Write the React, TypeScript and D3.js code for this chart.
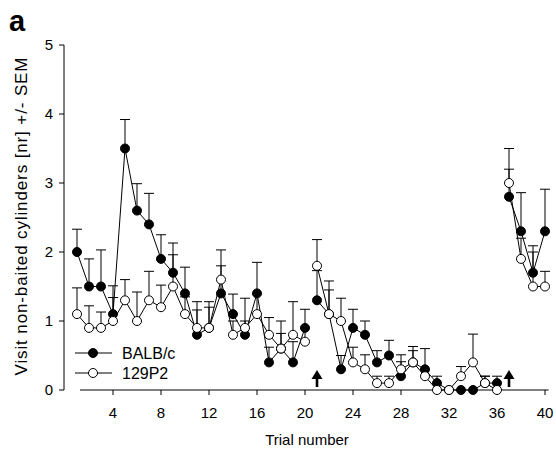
import React from "react";
import * as d3 from "d3";

const trials = d3.range(1, 41);
const balbMean = [2.0,1.5,1.5,1.1,3.5,2.6,2.4,1.9,1.7,1.4,0.8,0.9,1.4,1.1,0.8,1.4,0.4,0.6,0.4,0.9,1.3,1.1,0.3,0.9,0.8,0.4,0.5,0.2,0.4,0.3,0.1,0.0,0.0,0.0,0.1,0.1,2.8,2.3,1.7,2.3];
const balbSem = [0.33,0.4,0.53,0.41,0.42,0.39,0.45,0.35,0.43,0.38,0.36,0.3,0.63,0.29,0.2,0.45,0.22,0.4,0.3,0.27,0.43,0.35,0.2,0.27,0.2,0.17,0.22,0.21,0.23,0.3,0.1,0,0,0,0.1,0.1,0.4,0.56,0.39,0.61];
const p2Mean = [1.1,0.9,0.9,1.0,1.3,1.0,1.3,1.2,1.5,1.1,0.9,0.9,1.6,0.8,0.9,1.1,0.8,0.6,0.8,0.7,1.8,1.1,1.0,0.4,0.3,0.1,0.1,0.3,0.4,0.2,0.0,0.0,0.2,0.4,0.1,0.0,3.0,1.9,1.5,1.5];
const p2Sem = [0.38,0.32,0.23,0.34,0.3,0.42,0.42,0.32,0.46,0.25,0.38,0.38,0.2,0.2,0.43,0.3,0.25,0.22,0.48,0.2,0.38,0.48,0.33,0.22,0.21,0.1,0.1,0.21,0.17,0.1,0,0,0.14,0.41,0.1,0,0.5,0.3,0.5,0.22];
const blocks: [number, number][] = [[1, 20], [21, 36], [37, 40]];
const arrowTrials = [21, 37];
const xTicks = [4, 8, 12, 16, 20, 24, 28, 32, 36, 40];
const yTicks = [0, 1, 2, 3, 4, 5];
const seriesNames = ["BALB/c", "129P2"];

const FONT = "'Liberation Sans', Arial, Helvetica, sans-serif";

export default function App() {
  const x = d3.scaleLinear().domain([1, 40]).range([77, 545]);
  const y = d3.scaleLinear().domain([0, 5]).range([390, 45]);
  const r = 4.5;
  const cap = 5;

  const series = [
    { name: seriesNames[0], mean: balbMean, sem: balbSem, fill: "#000" },
    { name: seriesNames[1], mean: p2Mean, sem: p2Sem, fill: "#fff" },
  ];

  const pathFor = (mean: number[]) =>
    blocks
      .map(([a, b]) =>
        d3
          .line<number>()
          .x((t) => x(t))
          .y((t) => y(mean[t - 1]))(d3.range(a, b + 1))
      )
      .join("");

  return (
    <svg
      width={556}
      height={453}
      style={{ position: "absolute", left: 0, top: 0, background: "#fff" }}
      fontFamily={FONT}
    >
      <rect x={0} y={0} width={556} height={453} fill="#fff" />
      <text x={9} y={31} fontSize={29} fontWeight="bold">a</text>

      {/* y axis */}
      <line x1={64} x2={64} y1={y(5)} y2={y(0)} stroke="#000" strokeWidth={1} />
      {yTicks.map((v) => (
        <g key={v}>
          <line x1={59} x2={64} y1={y(v)} y2={y(v)} stroke="#000" />
          <text x={53} y={y(v) + 5} fontSize={15} textAnchor="end">{v}</text>
        </g>
      ))}
      <text
        transform={`translate(27, ${(57 + 376) / 2}) rotate(-90)`}
        fontSize={17}
        textAnchor="middle"
        textLength={318}
        lengthAdjust="spacing"
      >
        Visit non-baited cylinders [nr] +/- SEM
      </text>

      {/* x axis */}
      <line x1={x(1.25)} x2={x(40.3)} y1={390} y2={390} stroke="#000" />
      {xTicks.map((t) => (
        <g key={t}>
          <line x1={x(t)} x2={x(t)} y1={390} y2={395} stroke="#000" />
          <text x={x(t)} y={418} fontSize={15} textAnchor="middle">{t}</text>
        </g>
      ))}
      <text x={307} y={445} fontSize={15} textAnchor="middle">Trial number</text>

      {/* error bars */}
      {series.map((s) =>
        trials.map((t) =>
          s.sem[t - 1] > 0 ? (
            <g key={s.name + t} stroke="#000" strokeWidth={1}>
              <line x1={x(t)} x2={x(t)} y1={y(s.mean[t - 1])} y2={y(s.mean[t - 1] + s.sem[t - 1])} />
              <line x1={x(t) - cap} x2={x(t) + cap} y1={y(s.mean[t - 1] + s.sem[t - 1])} y2={y(s.mean[t - 1] + s.sem[t - 1])} />
            </g>
          ) : null
        )
      )}

      {/* lines */}
      {series.map((s) => (
        <path key={s.name + "l"} d={pathFor(s.mean)} fill="none" stroke="#000" strokeWidth={1} />
      ))}

      {/* markers */}
      {series.map((s) =>
        trials.map((t) => (
          <circle key={s.name + "m" + t} cx={x(t)} cy={y(s.mean[t - 1])} r={r} fill={s.fill} stroke="#000" strokeWidth={1} />
        ))
      )}

      {/* arrows */}
      {arrowTrials.map((t) => (
        <g key={"a" + t} fill="#000">
          <path d={`M${x(t)},370 L${x(t) + 5.5},379 L${x(t) - 5.5},379 Z`} />
          <rect x={x(t) - 1.3} y={378} width={2.6} height={9} />
        </g>
      ))}

      {/* legend */}
      {series.map((s, i) => (
        <g key={s.name + "lg"}>
          <line x1={75} x2={112} y1={353 + i * 20} y2={353 + i * 20} stroke="#000" />
          <circle cx={93} cy={353 + i * 20} r={r} fill={s.fill} stroke="#000" />
          <text x={122} y={353 + i * 20 + 5.5} fontSize={16}>{s.name}</text>
        </g>
      ))}
    </svg>
  );
}
